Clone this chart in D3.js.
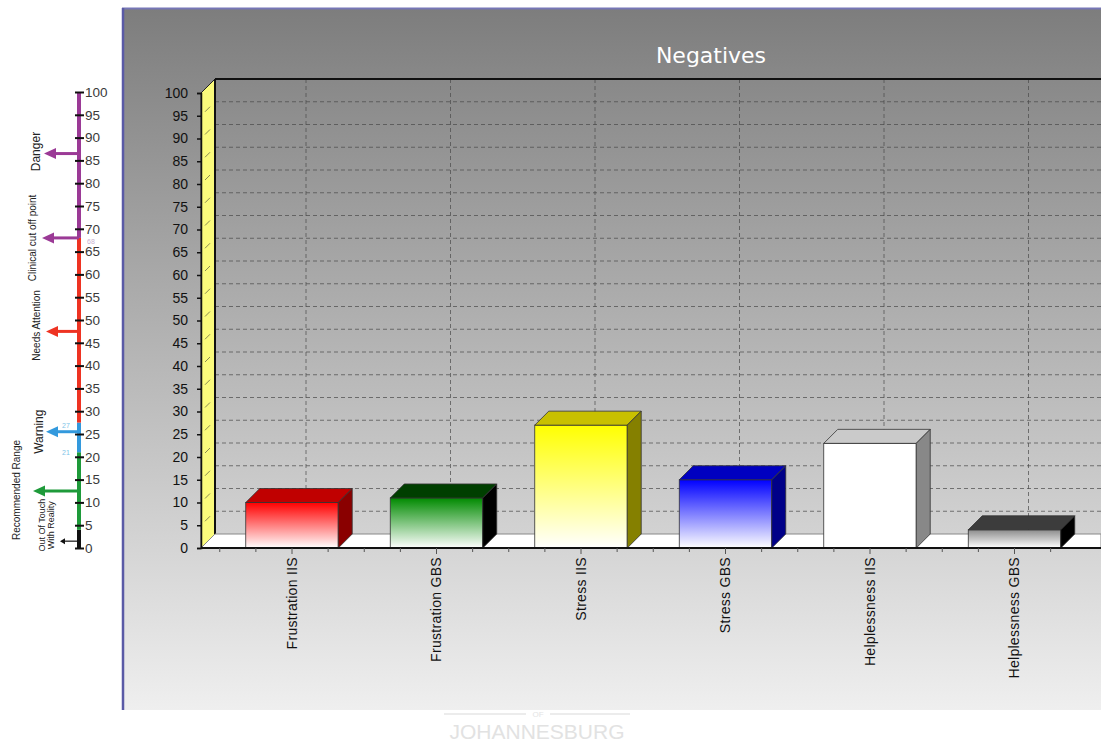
<!DOCTYPE html>
<html>
<head>
<meta charset="utf-8">
<script src="https://cdn.jsdelivr.net/npm/d3@7"></script>
<style>
body{margin:0;background:#fff;}
text{font-family:"Liberation Sans",Arial,sans-serif;}
</style>
</head>
<body>
<div id="chart"></div>
<script>
/* chart data */
var categories = ["Frustration IIS","Frustration GBS","Stress IIS","Stress GBS","Helplessness IIS","Helplessness GBS"];
var values = [10, 11, 27, 15, 23, 4];
var yTicks = d3.range(0, 101, 5);

/* gauge data */
var gaugeBandFrom = [0, 4, 21, 27.5, 68];
var gaugeBandTo = [4, 21, 27.5, 68, 100];
var gaugeLabels = [["Danger"],["Clinical cut off point"],["Needs Attention"],["Warning"],["Recommended Range"],["Out Of Touch","With Reality"]];
var gaugeArrowValues = [86.5, 68, 47.5, 25.5, 12.5, 1.5];
var gaugeNotes = [68, 27, 21];

/* colours */
var frontColors = ["#ff0000","#008a00","#ffff00","#0000ff","#ffffff","#8c8c8c"];
var topColors = ["#c00000","#003f00","#c8c000","#0000c0","#cacaca","#3c3c3c"];
var sideColors = ["#8a0000","#000000","#858000","#000088","#888888","#000000"];
var bandColors = ["#111111","#1e9a3a","#3399dd","#ee3322","#9b3a96"];
var arrowColors = ["#9b3a96","#9b3a96","#ee3322","#3399dd","#1e9a3a","#111111"];
var noteColors = ["#c8b0d0","#80c4e8","#80c4e8"];

var width = 1101, height = 744;
var depth = 14;

var svg = d3.select("#chart").append("svg")
  .attr("width", width)
  .attr("height", height);

var defs = svg.append("defs");
var bg = defs.append("linearGradient").attr("id","bg")
  .attr("x1",0).attr("y1",0).attr("x2",0).attr("y2",1);
bg.append("stop").attr("offset","0%").attr("stop-color","#7d7d7d");
bg.append("stop").attr("offset","100%").attr("stop-color","#efefef");

frontColors.forEach(function(c, i){
  var g = defs.append("linearGradient").attr("id","bar"+i)
    .attr("x1",0).attr("y1",0).attr("x2",0).attr("y2",1);
  g.append("stop").attr("offset","0%").attr("stop-color",c);
  g.append("stop").attr("offset","100%").attr("stop-color","#ffffff");
});

/* watermark under the panel */
svg.append("text")
  .attr("x",537).attr("y",739)
  .attr("text-anchor","middle")
  .style("font-size","21px")
  .style("fill","#e2e2e2")
  .text("JOHANNESBURG");
svg.append("line").attr("x1",444).attr("x2",526).attr("y1",714).attr("y2",714)
  .style("stroke","#ececec").style("stroke-width",2);
svg.append("line").attr("x1",550).attr("x2",630).attr("y1",714).attr("y2",714)
  .style("stroke","#ececec").style("stroke-width",2);
svg.append("text")
  .attr("x",538).attr("y",717)
  .attr("text-anchor","middle")
  .style("font-size","8px")
  .style("fill","#e4e4e4")
  .text("OF");

/* Panel */
svg.append("rect")
  .attr("x",122).attr("y",8)
  .attr("width",width-122).attr("height",702)
  .style("fill","url(#bg)");
svg.append("line").attr("x1",122).attr("x2",width).attr("y1",8.5).attr("y2",8.5)
  .style("stroke","#7676b6").style("stroke-width",2);
svg.append("line").attr("x1",123).attr("x2",123).attr("y1",8).attr("y2",710)
  .style("stroke","#5a5aa6").style("stroke-width",2.5);

svg.append("text")
  .attr("x",711).attr("y",63)
  .attr("text-anchor","middle")
  .style("font-family","'DejaVu Sans',sans-serif")
  .style("font-size","22px")
  .style("fill","#ffffff")
  .text("Negatives");

/* Scales */
var x = d3.scaleBand()
  .domain(categories)
  .range([219.75, 219.75 + 6*144.5])
  .paddingInner(0.36)
  .paddingOuter(0.18);

var y = d3.scaleLinear()
  .domain([0, 100])
  .range([548, 93]);

var x0 = 201, base = y(0);

/* back wall grid */
var grid = svg.append("g").attr("class","grid");
grid.selectAll(".hgrid")
  .data(yTicks.filter(d => d > 0 && d < 100)).enter()
  .append("line")
  .attr("x1", x0+depth).attr("x2", width)
  .attr("y1", d => y(d)-depth).attr("y2", d => y(d)-depth)
  .style("stroke","#4a4a4a").style("stroke-dasharray","4,3")
  .style("stroke-width",1).style("opacity",0.7);
grid.selectAll(".vgrid")
  .data(categories).enter()
  .append("line")
  .attr("x1", d => x(d)+x.bandwidth()/2+depth).attr("x2", d => x(d)+x.bandwidth()/2+depth)
  .attr("y1", y(100)-depth).attr("y2", base-depth)
  .style("stroke","#4a4a4a").style("stroke-dasharray","4,3")
  .style("stroke-width",1).style("opacity",0.7);

svg.append("line")
  .attr("x1", x0+depth).attr("x2", width)
  .attr("y1", y(100)-depth).attr("y2", y(100)-depth)
  .style("stroke","#111").style("stroke-width",2);

/* yellow side wall */
svg.append("path")
  .attr("d", d3.line()([[x0, y(100)],[x0+depth, y(100)-depth],[x0+depth, base-depth],[x0, base]]) + "Z")
  .style("fill","#fbfb7c")
  .style("stroke","#222").style("stroke-width",1);
svg.append("line")
  .attr("x1", x0+depth).attr("x2", x0+depth)
  .attr("y1", y(100)-depth).attr("y2", base-depth)
  .style("stroke","#111").style("stroke-width",2);
svg.selectAll(".wallTick")
  .data(yTicks.filter(d => d > 0 && d < 100)).enter()
  .append("line")
  .attr("x1", x0+4).attr("x2", x0+9)
  .attr("y1", d => y(d)-4).attr("y2", d => y(d)-9)
  .style("stroke","#8a8a50").style("stroke-width",1);

/* floor */
svg.append("path")
  .attr("d", d3.line()([[x0, base],[x0+depth, base-depth],[width, base-depth],[width, base]]) + "Z")
  .style("fill","#ffffff")
  .style("stroke","#888").style("stroke-width",1);

/* bars */
var bars = svg.append("g").attr("class","bars")
  .selectAll("g").data(values).enter().append("g");
var bw = x.bandwidth();

bars.append("rect")
  .attr("x", (d,i) => x(categories[i]))
  .attr("y", d => y(d))
  .attr("width", bw)
  .attr("height", d => base - y(d))
  .style("fill", (d,i) => "url(#bar"+i+")")
  .style("stroke","#333").style("stroke-width",0.8);

bars.append("path")
  .attr("d", function(d,i){
    var bx = x(categories[i]), by = y(d);
    return d3.line()([[bx,by],[bx+depth,by-depth],[bx+bw+depth,by-depth],[bx+bw,by]]) + "Z";
  })
  .style("fill", (d,i) => topColors[i])
  .style("stroke","#333").style("stroke-width",0.8);

bars.append("path")
  .attr("d", function(d,i){
    var bx = x(categories[i]) + bw, by = y(d);
    return d3.line()([[bx,by],[bx+depth,by-depth],[bx+depth,base-depth],[bx,base]]) + "Z";
  })
  .style("fill", (d,i) => sideColors[i])
  .style("stroke","#333").style("stroke-width",0.8);

/* y axis */
var yAxis = d3.axisLeft(y).tickValues(yTicks).tickSize(4).tickPadding(9);
var yg = svg.append("g")
  .attr("transform", `translate(${x0},0)`)
  .call(yAxis);
yg.select(".domain").style("stroke","#111").style("stroke-width",1.5);
yg.selectAll(".tick line").style("stroke","#111").style("stroke-width",1.5);
yg.selectAll("text")
  .style("font-size","14px")
  .style("fill","#111")
  .style("font-family","'Liberation Sans',Arial,sans-serif");

/* x axis */
svg.append("line")
  .attr("x1", x0).attr("x2", width)
  .attr("y1", base).attr("y2", base)
  .style("stroke","#111").style("stroke-width",2);

var minor = [];
categories.forEach(function(c){
  var cx = x(c) + bw/2;
  [-0.5, -0.25, 0.25].forEach(k => minor.push(cx + k*x.step()));
});
svg.selectAll(".minorTick").data(minor).enter()
  .append("line")
  .attr("x1", d => d).attr("x2", d => d)
  .attr("y1", base).attr("y2", base+4)
  .style("stroke","#555").style("stroke-width",1);

var xAxis = d3.axisBottom(x).tickSize(6).tickSizeOuter(0);
var xg = svg.append("g")
  .attr("transform", `translate(0,${base})`)
  .call(xAxis);
xg.select(".domain").remove();
xg.selectAll(".tick line").style("stroke","#555");
xg.selectAll("text")
  .attr("transform","rotate(-90)")
  .attr("x", -9).attr("y", 0).attr("dy","0.35em")
  .style("text-anchor","end")
  .style("font-size","14px")
  .style("letter-spacing","0.3px")
  .style("fill","#111")
  .style("font-family","'Liberation Sans',Arial,sans-serif");

/* left gauge */
var gy = d3.scaleLinear().domain([0, 100]).range([548, 92]);
var gx = 79;
var gauge = svg.append("g").attr("class","gauge");

gauge.selectAll(".band").data(gaugeBandFrom).enter()
  .append("rect")
  .attr("x", gx-2).attr("width", 4)
  .attr("y", (d,i) => gy(gaugeBandTo[i]))
  .attr("height", (d,i) => gy(d) - gy(gaugeBandTo[i]))
  .style("fill", (d,i) => bandColors[i]);

var gAxis = d3.axisRight(gy).tickValues(yTicks).tickSize(9).tickPadding(1);
var ga = gauge.append("g")
  .attr("transform", `translate(${gx-4},0)`)
  .call(gAxis);
ga.select(".domain").remove();
ga.selectAll(".tick line").style("stroke","#111").style("stroke-width",2);
ga.selectAll("text")
  .style("font-size","13.5px")
  .style("fill","#3a3a3a")
  .style("font-family","'Liberation Sans',Arial,sans-serif");

/* arrows */
var headLen = [12,12,12,12,12,5];
var headHalf = [5.5,5.5,5.5,5.5,5.5,3];
var tipX = [44,42,46,46,33,60];
var arrowW = [3,3,3,3,3,1.2];
gaugeArrowValues.forEach(function(v, i){
  var ay = gy(v);
  gauge.append("line")
    .attr("x1", gx).attr("x2", tipX[i] + headLen[i] - 1)
    .attr("y1", ay).attr("y2", ay)
    .style("stroke", arrowColors[i]).style("stroke-width", arrowW[i]);
  gauge.append("path")
    .attr("d", d3.line()([[tipX[i], ay],[tipX[i]+headLen[i], ay-headHalf[i]],[tipX[i]+headLen[i], ay+headHalf[i]]]) + "Z")
    .style("fill", arrowColors[i]);
});

/* gauge labels */
var labelX = [[40],[36],[40],[43],[20],[45,54]];
var labelDy = [-2, 0, -6, 0, -1, -16];
var labelSize = [12, 10, 10, 12, 10, 9];
gaugeLabels.forEach(function(lines, i){
  lines.forEach(function(t, j){
    var lx = labelX[i][j], ly = gy(gaugeArrowValues[i]) + labelDy[i];
    gauge.append("text")
      .attr("transform", `translate(${lx},${ly}) rotate(-90)`)
      .attr("text-anchor","middle")
      .style("font-size", labelSize[i] + "px")
      .style("fill","#222")
      .text(t);
  });
});

/* small value notes */
var noteX = [87, 62, 62];
var noteDy = [6, 3, 3];
gaugeNotes.forEach(function(v, i){
  gauge.append("text")
    .attr("x", noteX[i]).attr("y", gy(v) + noteDy[i])
    .style("font-size","7px")
    .style("fill", noteColors[i])
    .text(v);
});
</script>
</body>
</html>
